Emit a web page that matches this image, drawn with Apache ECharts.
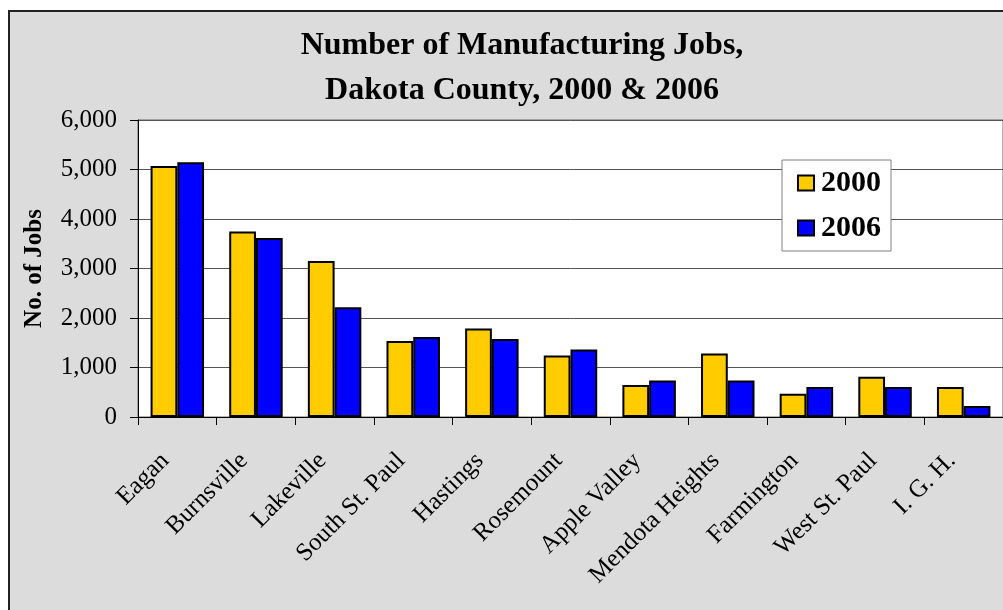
<!DOCTYPE html>
<html>
<head>
<meta charset="utf-8">
<script src="https://cdn.jsdelivr.net/npm/echarts@6/dist/echarts.min.js"></script>
<style>
html,body{margin:0;padding:0;background:#fff;}
#chart{width:1003px;height:610px;}
</style>
</head>
<body>
<div id="chart"></div>
<script>
var categories = ["Eagan","Burnsville","Lakeville","South St. Paul","Hastings","Rosemount","Apple Valley","Mendota Heights","Farmington","West St. Paul","I. G. H."];
var jobs2000 = [5070,3745,3150,1535,1790,1240,645,1285,470,815,605];
var jobs2006 = [5145,3615,2215,1615,1575,1365,735,735,605,605,220];
var seriesNames = ["2000","2006"];
var titleLines = ["Number of Manufacturing Jobs,","Dakota County, 2000 & 2006"];
var yAxisName = "No. of Jobs";

var serif = '"Liberation Serif","Times New Roman",serif';
var chart = echarts.init(document.getElementById('chart'), null, {renderer:'canvas'});
chart.setOption({
  backgroundColor: '#ffffff',
  animation: false,
  graphic: [{
    type: 'rect', z: -10, silent: true,
    shape: {x: 9, y: 11, width: 1010, height: 620},
    style: {fill: '#dcdcdc', stroke: '#222', lineWidth: 2}
  }],
  title: {
    text: titleLines.join('\n'),
    left: 517, top: 18, textAlign: 'center',
    textStyle: {fontFamily: serif, fontWeight: 'bold', fontSize: 32, lineHeight: 45, color: '#000'}
  },
  legend: {
    orient: 'vertical', left: 782, top: 160,
    backgroundColor: '#fff', borderColor: '#808080', borderWidth: 1,
    padding: [8, 10, 8, 15], itemGap: 15, itemWidth: 16, itemHeight: 15,
    icon: 'rect',
    textStyle: {fontFamily: serif, fontWeight: 'bold', fontSize: 30, color: '#000', padding: [0, 0, 0, 2]},
    data: seriesNames
  },
  grid: {left: 138, top: 120, right: -4, bottom: 193, show: true, backgroundColor: '#fff', borderColor: '#666', borderWidth: 1},
  xAxis: {
    type: 'category', data: categories,
    axisLine: {lineStyle: {color: '#000', width: 1}},
    axisTick: {show: true, length: 8, lineStyle: {color: '#000'}},
    axisLabel: {rotate: 45, margin: 28, fontFamily: serif, fontSize: 25, color: '#000', interval: 0, padding: [0, 17, 0, 0]}
  },
  yAxis: {
    type: 'value', min: 0, max: 6000, interval: 1000,
    name: yAxisName, nameLocation: 'middle', nameGap: 91, nameRotate: 90,
    nameTextStyle: {fontFamily: serif, fontWeight: 'bold', fontSize: 25, color: '#000'},
    axisLine: {show: true, lineStyle: {color: '#000', width: 1}},
    axisTick: {show: true, length: 8, lineStyle: {color: '#000'}},
    axisLabel: {margin: 21, fontFamily: serif, fontSize: 25, color: '#000',
      formatter: function(v){ return v.toLocaleString('en-US'); }},
    splitLine: {show: true, lineStyle: {color: '#555', width: 1}}
  },
  series: [
    {name: seriesNames[0], type: 'bar', data: jobs2000, barGap: '0%', barCategoryGap: '32%',
     itemStyle: {color: '#ffcc00', borderColor: '#000', borderWidth: 2}},
    {name: seriesNames[1], type: 'bar', data: jobs2006, barGap: '0%', barCategoryGap: '32%',
     itemStyle: {color: '#0000ff', borderColor: '#000', borderWidth: 2}}
  ]
});
</script>
</body>
</html>
